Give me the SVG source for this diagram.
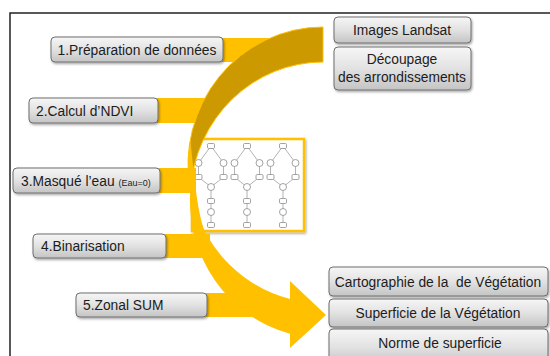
<svg xmlns="http://www.w3.org/2000/svg" xmlns:xlink="http://www.w3.org/1999/xlink" width="550" height="356" viewBox="0 0 550 356">
<defs>
  <linearGradient id="gbox" x1="0" y1="0" x2="0" y2="1">
    <stop offset="0" stop-color="#f6f6f6"/>
    <stop offset="0.5" stop-color="#e2e2e2"/>
    <stop offset="1" stop-color="#c4c4c4"/>
  </linearGradient>
  <filter id="sh" x="-10%" y="-20%" width="125%" height="160%">
    <feDropShadow dx="1" dy="1.5" stdDeviation="1" flood-color="#000" flood-opacity="0.35"/>
  </filter>
  <g id="motif">
    <path class="nl" d="M0,0 L-12.5,17 M0,0 L12.5,17 M-12.5,17 V31 M12.5,17 V31 M-12.5,31 L0,41 M12.5,31 L0,41 M0,41 V79"/>
    <rect class="nn" x="-3.5" y="-2.5" width="7" height="5" rx="1.2"/>
    <circle class="nn" cx="-12.5" cy="17" r="3.5"/>
    <circle class="nn" cx="12.5" cy="17" r="3.5"/>
    <rect class="nn" x="-16" y="28.5" width="7" height="5" rx="1.2"/>
    <rect class="nn" x="9" y="28.5" width="7" height="5" rx="1.2"/>
    <circle class="nn" cx="0" cy="41" r="3.5"/>
    <rect class="nn" x="-3.5" y="52.5" width="7" height="5" rx="1.2"/>
    <circle class="nn" cx="0" cy="66" r="3.5"/>
    <rect class="nn" x="-3.5" y="76.5" width="7" height="5" rx="1.2"/>
  </g>
</defs>
<style>
  .box { fill: url(#gbox); stroke: #6e6e6e; stroke-width: 1; filter: url(#sh); }
  .t { font-family: "Liberation Sans", Arial, sans-serif; font-size: 13.8px; fill: #1c1c1c; }
  .c { text-anchor: middle; }
  .small { font-size: 9px; }
  .bar { fill: #FFC000; }
  .front { fill: #FFC000; }
  .back { fill: #CC9A00; stroke: #FFC000; stroke-width: 1; }
  .nl { fill: none; stroke: #a0a0a0; stroke-width: 0.8; }
  .nn { fill: #ffffff; stroke: #8c8c8c; stroke-width: 0.8; }
</style>

<rect x="10" y="13" width="560" height="360" fill="none" stroke="#222" stroke-width="1.5"/>

<g id="network">
  <rect x="192" y="139" width="112" height="92" fill="#fff" stroke="#FFC000" stroke-width="2.5" filter="url(#sh)"/>
  <use xlink:href="#motif" x="211" y="146"/>
  <use xlink:href="#motif" x="247" y="146"/>
  <use xlink:href="#motif" x="283" y="146"/>
</g>

<g id="connectors">
  <rect class="bar" x="222" y="38" width="52" height="24"/>
  <rect class="bar" x="157" y="98" width="48" height="25"/>
  <rect class="bar" x="159" y="168" width="37" height="25"/>
  <rect class="bar" x="165" y="234" width="45" height="24"/>
  <rect class="bar" x="206" y="293" width="49" height="24"/>
  <path class="back" d="M323,27 A135,138 0 0,0 190.3,190.5 A133,138 0 0,1 323,62 Z"/>
  <path class="front" d="M190.2,140 A135,138 0 0,0 190.3,190.5 A133,138 0 0,0 290,333.7 L290,348 L326,315 L290,281 L290,298.9 A135,138 0 0,1 207,235.6 C196.9,218.3 194,170 190.2,140 Z"/>
</g>

<g id="step1">
  <rect class="box" x="51" y="37" width="172" height="25" rx="4"/>
  <text class="t c" x="137" y="55">1.Préparation de données</text>
</g>
<g id="step2">
  <rect class="box" x="29" y="98" width="129" height="25" rx="4"/>
  <text class="t" x="36" y="116">2.Calcul d’NDVI</text>
</g>
<g id="step3">
  <rect class="box" x="13" y="168" width="147" height="25" rx="4"/>
  <text class="t" x="21" y="186">3.Masqué l’eau <tspan class="small">(Eau=0)</tspan></text>
</g>
<g id="step4">
  <rect class="box" x="33" y="234" width="133" height="24" rx="4"/>
  <text class="t" x="41" y="251">4.Binarisation</text>
</g>
<g id="step5">
  <rect class="box" x="76" y="293" width="131" height="24" rx="4"/>
  <text class="t" x="83" y="310">5.Zonal SUM</text>
</g>

<g id="landsat">
  <rect class="box" x="334" y="17" width="137" height="26" rx="4"/>
  <text class="t c" x="402" y="35">Images Landsat</text>
</g>
<g id="decoupage">
  <rect class="box" x="334" y="47" width="137" height="43" rx="4"/>
  <text class="t c" x="402" y="64">Découpage</text>
  <text class="t c" x="402" y="82">des arrondissements</text>
</g>
<g id="cartographie">
  <rect class="box" x="329" y="267" width="219" height="29" rx="4"/>
  <text class="t c" x="438" y="287">Cartographie de la&#160; de Végétation</text>
</g>
<g id="superficie">
  <rect class="box" x="329" y="299" width="219" height="28" rx="4"/>
  <text class="t c" x="438" y="318">Superficie de la Végétation</text>
</g>
<g id="norme">
  <rect class="box" x="329" y="329" width="219" height="36" rx="4"/>
  <text class="t c" x="440" y="348">Norme de superficie</text>
</g>
</svg>
